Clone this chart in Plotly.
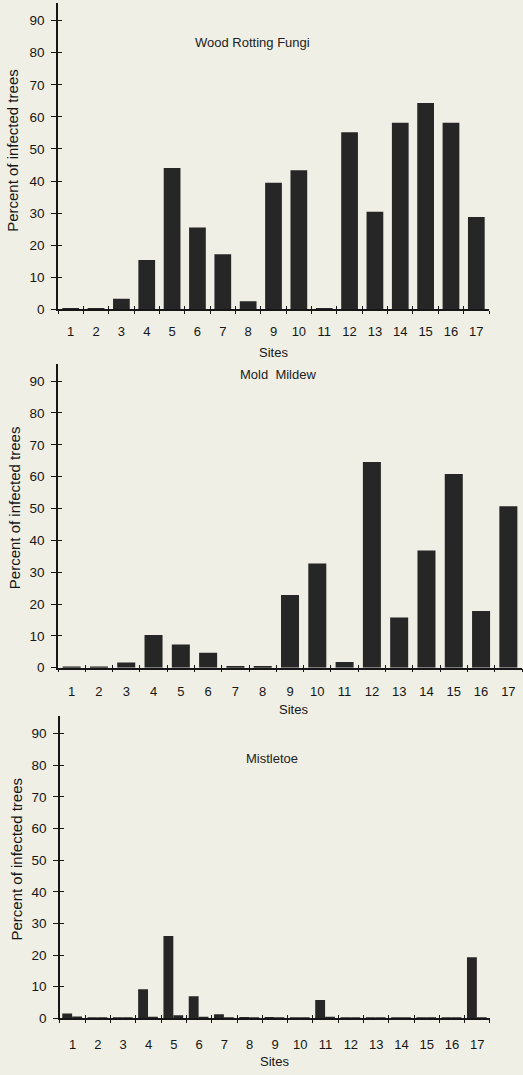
import plotly.graph_objects as go

sites = list(range(1, 18))
site_labels = [str(s) for s in sites]

wood_rotting_fungi = [0.4, 0.4, 3.3, 15.4, 44.1, 25.5, 17.2, 2.5, 39.5, 43.4, 0.4, 55.2, 30.4, 58.2, 64.3, 58.2, 28.8]
mold_mildew = [0.3, 0.3, 1.6, 10.3, 7.3, 4.7, 0.5, 0.5, 22.8, 32.7, 1.8, 64.6, 15.8, 36.8, 60.8, 17.8, 50.7]
mistletoe_a = [1.5, 0.3, 0.3, 9.2, 26.0, 7.0, 1.3, 0.4, 0.4, 0.3, 5.8, 0.3, 0.3, 0.3, 0.3, 0.3, 19.3]
mistletoe_b = [0.6, 0.3, 0.3, 0.5, 1.0, 0.5, 0.3, 0.3, 0.3, 0.3, 0.5, 0.3, 0.3, 0.3, 0.3, 0.3, 0.3]

y_ticks = list(range(0, 100, 10))
boundaries = [s - 0.5 for s in sites] + [17.5]

titles = ["Wood Rotting Fungi", "Mold  Mildew", "Mistletoe"]
y_title = "Percent of infected trees"
x_title = "Sites"

BG = "#efefe5"
BAR = "#262626"
INK = "#161616"
FONT = "Liberation Sans, Arial, sans-serif"

fig = go.Figure()

fig.add_trace(go.Bar(x=sites, y=wood_rotting_fungi, width=0.66, marker=dict(color=BAR, line=dict(width=0)),
                     xaxis="x", yaxis="y", showlegend=False))
fig.add_trace(go.Bar(x=sites, y=mold_mildew, width=0.66, marker=dict(color=BAR, line=dict(width=0)),
                     xaxis="x2", yaxis="y2", showlegend=False))
fig.add_trace(go.Bar(x=sites, y=mistletoe_a, width=0.39, offset=-0.41, marker=dict(color=BAR, line=dict(width=0)),
                     xaxis="x3", yaxis="y3", showlegend=False))
fig.add_trace(go.Bar(x=sites, y=mistletoe_b, width=0.39, offset=-0.02, marker=dict(color=BAR, line=dict(width=0)),
                     xaxis="x3", yaxis="y3", showlegend=False))

x_domains = [[0.1109, 0.935], [0.1109, 0.9981], [0.1147, 0.9369]]
y_domains = [[0.71005, 0.99721], [0.37423, 0.65926], [0.04558, 0.32884]]
x_standoff = [9, 11, 13]
YMAX = 95.5

layout = dict(
    width=523, height=1075,
    margin=dict(l=0, r=0, t=0, b=0),
    paper_bgcolor=BG, plot_bgcolor=BG,
    font=dict(family=FONT, color=INK),
    barmode="overlay",
    showlegend=False,
)

for i in range(3):
    n = i + 1
    xs = "" if n == 1 else str(n)
    ovx = str(n + 3)
    layout["xaxis" + xs] = dict(
        domain=x_domains[i], anchor="y" + xs, range=[0.5, 17.5],
        tickmode="array", tickvals=sites, ticktext=site_labels, ticks="",
        ticklabelstandoff=x_standoff[i],
        tickfont=dict(size=13, color=INK, family=FONT),
        showline=True, linecolor=INK, linewidth=1.5, showgrid=False, zeroline=False,
        minor=dict(tickmode="array", tickvals=boundaries, ticks="outside", ticklen=3,
                   tickwidth=1.3, tickcolor=INK, showgrid=False),
        fixedrange=True,
    )
    layout["yaxis" + xs] = dict(
        domain=y_domains[i], anchor="x" + xs, range=[0, YMAX],
        tickmode="array", tickvals=y_ticks, ticks="outside", ticklen=5, tickwidth=1.3,
        tickcolor=INK, ticklabelstandoff=4,
        tickfont=dict(size=13.5, color=INK, family=FONT),
        showline=True, linecolor=INK, linewidth=1.5, showgrid=False, zeroline=False,
        fixedrange=True,
    )
    layout["xaxis" + ovx] = dict(
        overlaying="x" + xs, anchor="y" + xs, range=[0.5, 17.5],
        tickmode="array", tickvals=boundaries, ticks="inside", ticklen=3, tickwidth=1.3,
        tickcolor=INK, showticklabels=False, showline=False, showgrid=False, zeroline=False,
        fixedrange=True,
    )
    layout["yaxis" + ovx] = dict(
        overlaying="y" + xs, anchor="x" + xs, range=[0, YMAX],
        tickmode="array", tickvals=y_ticks, ticks="inside", ticklen=4, tickwidth=1.3,
        tickcolor=INK, showticklabels=False, showline=False, showgrid=False, zeroline=False,
        fixedrange=True,
    )
    fig.add_trace(go.Scatter(x=[None], y=[None], xaxis="x" + ovx, yaxis="y" + xs,
                             showlegend=False, hoverinfo="skip"))
    fig.add_trace(go.Scatter(x=[None], y=[None], xaxis="x" + xs, yaxis="y" + ovx,
                             showlegend=False, hoverinfo="skip"))

fig.update_layout(**layout)

def px(xp, yp):
    return xp / 523, 1 - yp / 1075

title_pos = [(252, 43), (278, 377), (272, 764)]
sites_pos = [(273, 355), (293, 715), (274, 1069)]
ytitle_pos = [(13, 152), (14, 512), (17, 866)]

for i in range(3):
    x, y = px(*title_pos[i])
    fig.add_annotation(x=x, y=y, xref="paper", yref="paper", text=titles[i], showarrow=False,
                       font=dict(size=13, color="#222", family=FONT), xanchor="center", yanchor="middle")
    x, y = px(*sites_pos[i])
    fig.add_annotation(x=x, y=y, xref="paper", yref="paper", text=x_title, showarrow=False,
                       font=dict(size=13, color=INK, family=FONT), xanchor="center", yanchor="middle")
    x, y = px(*ytitle_pos[i])
    fig.add_annotation(x=x, y=y, xref="paper", yref="paper", text=y_title, showarrow=False, textangle=-90,
                       font=dict(size=15, color=INK, family=FONT), xanchor="center", yanchor="middle")

fig.write_html("out.html")
